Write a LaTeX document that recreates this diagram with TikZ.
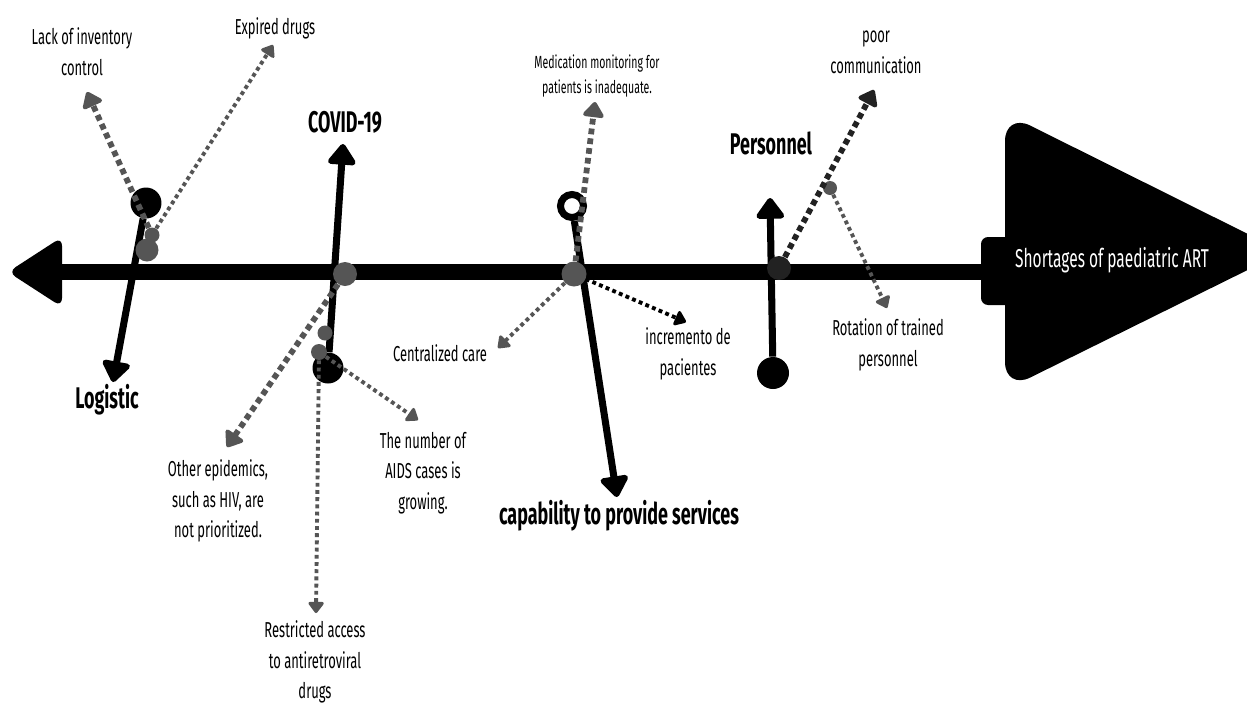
\documentclass[tikz,border=0pt]{standalone}
\usepackage{fontspec}
\setmainfont{Fira Sans}[FakeStretch=0.6]
\usepackage{tikz}
\usetikzlibrary{calc,arrows.meta}
\definecolor{sgray}{HTML}{555555}
\definecolor{sdark}{HTML}{222222}

\begin{document}
\begin{tikzpicture}[x=0.02cm, y=-0.02cm,
    BONE/.style={line width=4pt, -{Triangle[round, length=13pt, width=18pt]}},
    DOTA/.style={sgray, line width=3.3pt, dash pattern=on 3.3pt off 2.3pt, -{Triangle[round, length=9.5pt, width=13.5pt]}},
    DOTB/.style={sgray, line width=2.2pt, dash pattern=on 2.2pt off 1.9pt, -{Triangle[round, length=7pt, width=10pt]}},
    BALL/.style={circle, fill=black, inner sep=0pt, minimum size=0.62cm},
    GBALL/.style={circle, fill=sgray, inner sep=0pt},
    TXT/.style={align=center, font=\fontsize{12.3}{17.5}\selectfont, inner sep=0pt},
    HEAD/.style={align=center, font=\bfseries\fontsize{17}{20}\selectfont, inner sep=0pt}
    ]
        \useasboundingbox (0,0) rectangle (1247,704);
        % spine and head
        \fill[rounded corners=5pt] (8,272) -- (62,237) -- (62,307) -- cycle;
        \fill[rounded corners=4pt] (981,237) rectangle (1012,305);
        \fill[rounded corners=16pt] (1005,113) -- (1284,252) -- (1005,390) -- cycle;
        \draw[line width=9.6pt] (55,272) -- (985,272);
        \node[TXT, text=white, font=\fontsize{14.7}{17}\selectfont] (T15) at (1112,260) {Shortages of paediatric ART};

        % bones
        \node[BALL] (K1) at (146,203) {};
        \node[BALL] (K2) at (328,368) {};
        \node[circle, draw=black, line width=4pt, fill=white, inner sep=0pt, minimum size=0.46cm] (K3) at (572,206) {};
        \node[BALL, minimum size=0.64cm] (K4) at (773,373) {};
        \coordinate (A1) at (113,382);
        \coordinate (A2) at (343,144);
        \coordinate (A3) at (617,497);
        \coordinate (A4) at (770,198);
        \draw[BONE] (K1) -- (A1);
        \draw[BONE] (K2) -- (A2);
        \draw[BONE] (K3) -- (A3);
        \draw[BONE] (K4) -- (A4);
        \node[HEAD] (T3) at (107,400) {Logistic};
        \node[HEAD] (T4) at (345,122) {COVID-19};
        \node[HEAD] (T11) at (619,516) {capability to provide services};
        \node[HEAD] (T12) at (771,143) {Personnel};

        % causes
        \node[GBALL, minimum size=0.46cm] (G2) at (147,250) {};
        \node[GBALL, minimum size=0.3cm] (G1) at (152,235) {};
        \node[GBALL, minimum size=0.48cm] (G3) at (345,274) {};
        \node[GBALL, minimum size=0.3cm] (G4) at (325,333) {};
        \node[GBALL, minimum size=0.32cm] (G5) at (319,352) {};
        \node[GBALL, minimum size=0.5cm] (G6) at (574,274) {};
        \node[GBALL, fill=sdark, minimum size=0.48cm] (G7) at (779,268) {};
        \node[GBALL, minimum size=0.28cm] (G8) at (830,188) {};
        \coordinate (A5) at (87,92);
        \coordinate (A6) at (273,45);
        \coordinate (A7) at (227,447);
        \coordinate (A8) at (316,613);
        \coordinate (A9) at (418,420);
        \coordinate (A10) at (498,348);
        \coordinate (A11) at (595,102);
        \coordinate (A12) at (686,322);
        \coordinate (A13) at (874,90);
        \coordinate (A14) at (887,308);
        \draw[DOTA] (G1) -- (A5);
        \draw[DOTB] (G1) -- (A6);
        \draw[DOTA] (G3) -- (A7);
        \draw[DOTB] (G5) -- (A8);
        \draw[DOTB] (G5) -- (A9);
        \draw[DOTB] (G6) -- (A10);
        \draw[DOTA] (G6) -- (A11);
        \draw[DOTB, black] (G6) -- (A12);
        \draw[DOTA, sdark] (G7) -- (A13);
        \draw[DOTB] (G8) -- (A14);
        \node[TXT] (T1) at (82,52) {Lack of inventory\\control};
        \node[TXT] (T2) at (275,28) {Expired drugs};
        \node[TXT] (T5) at (218,501) {Other epidemics,\\such as HIV, are\\not prioritized.};
        \node[TXT] (T6) at (315,662) {Restricted access\\to antiretroviral\\drugs};
        \node[TXT] (T7) at (423,473) {The number of\\AIDS cases is\\growing.};
        \node[TXT] (T8) at (440,353) {Centralized care};
        \node[TXT, font=\fontsize{10}{14.5}\selectfont] (T9) at (597,76) {Medication monitoring for\\patients is inadequate.};
        \node[TXT] (T10) at (688,354) {incremento de\\pacientes};
        \node[TXT] (T13) at (876,52) {poor\\communication};
        \node[TXT] (T14) at (888,345) {Rotation of trained\\personnel};
    \end{tikzpicture}
\end{document}
